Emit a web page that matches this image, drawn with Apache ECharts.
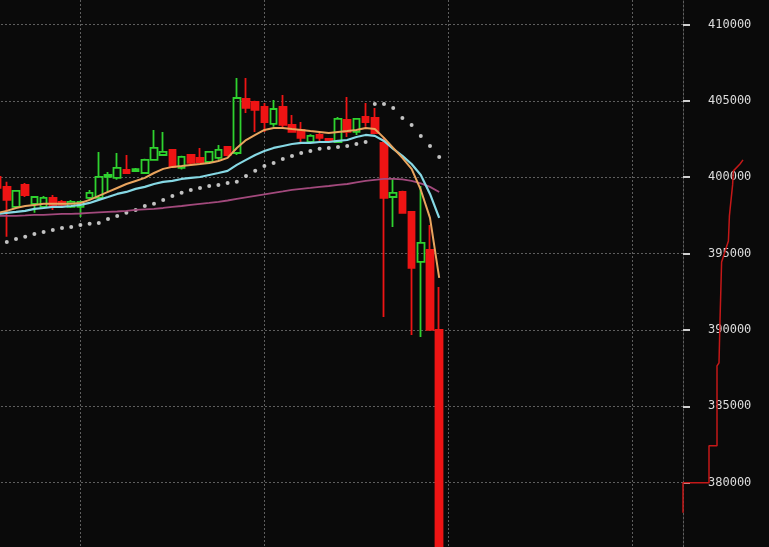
<!DOCTYPE html>
<html>
<head>
<meta charset="utf-8">
<script src="https://cdn.jsdelivr.net/npm/echarts@6/dist/echarts.min.js"></script>
<style>
  html, body { margin: 0; padding: 0; background: #0a0a0a; overflow: hidden; }
  /* the scale runs past the window: 415000 sits above it, 375000 below */
  #chart { position: absolute; left: -7px; top: -52px; width: 776px; height: 611px; }
</style>
</head>
<body>
<div id="chart"></div>
<script>
// 75 bar slots, only the first 49 carry candles
const categories = Array.from({length: 75}, (_, i) => 'K' + (i + 1));

// [open, close, low, high]
const candles = [
  [400010, 399290, 399160, 400140],
  [399360, 398510, 396090, 399690],
  [398050, 399100, 397980, 399160],
  [399490, 398830, 398700, 399620],
  [398250, 398700, 397660, 398770],
  [398050, 398640, 397980, 398770],
  [398640, 398050, 397850, 398830],
  [398380, 398180, 398050, 398510],
  [398050, 398380, 397980, 398510],
  [398050, 398380, 397390, 398450],
  [398640, 398970, 398510, 399160],
  [398640, 400010, 398510, 401650],
  [400010, 400140, 399030, 400340],
  [399950, 400600, 399820, 401580],
  [400470, 400270, 400200, 401450],
  [400400, 400530, 400350, 400600],
  [400270, 401130, 400200, 401200],
  [401130, 401910, 401130, 403090],
  [401450, 401650, 401450, 402960],
  [401780, 400670, 400600, 401800],
  [400600, 401320, 400500, 401400],
  [401450, 400930, 400850, 401500],
  [401260, 400990, 400930, 401910],
  [400990, 401650, 400990, 401700],
  [401260, 401780, 401130, 402110],
  [401980, 401450, 401350, 402000],
  [401580, 405180, 401450, 406490],
  [405120, 404530, 404200, 406490],
  [404920, 404400, 402960, 405000],
  [404590, 403610, 402960, 404860],
  [403480, 404460, 403290, 405050],
  [404590, 403420, 403220, 405380],
  [403420, 402960, 402900, 404070],
  [403090, 402570, 402300, 403610],
  [402300, 402700, 402200, 402800],
  [402760, 402570, 402300, 402890],
  [402500, 402370, 402300, 402560],
  [402300, 403810, 402240, 403940],
  [403740, 402960, 402630, 405250],
  [402960, 403810, 402760, 403870],
  [403940, 403610, 403290, 404860],
  [403870, 402890, 402850, 404530],
  [402240, 398640, 390850, 402570],
  [398700, 398970, 396740, 399950],
  [399030, 397660, 397600, 399100],
  [397720, 394060, 389670, 397720],
  [394450, 395690, 389540, 399420],
  [395230, 390000, 390000, 396870],
  [390000, 375500, 375400, 392810]
];

const maFast = [397660, 397790, 397980, 398110, 398180, 398250, 398250, 398250, 398250, 398310,
  398510, 398770, 399030, 399290, 399550, 399750, 399950, 400270, 400540, 400670,
  400730, 400800, 400860, 400930, 401060, 401260, 401910, 402430, 402760, 403090,
  403220, 403220, 403150, 403090, 403020, 402960, 402890, 402960, 403020, 403090,
  403220, 403150, 402570, 401910, 401260, 400540, 399160, 397330, 393400];

const maMid = [397590, 397660, 397720, 397790, 397920, 397980, 398050, 398050, 398110, 398180,
  398310, 398510, 398700, 398900, 399030, 399230, 399360, 399550, 399690, 399750,
  399880, 399950, 400010, 400140, 400270, 400410, 400800, 401130, 401450, 401710,
  401910, 402040, 402170, 402240, 402240, 402300, 402300, 402370, 402430, 402630,
  402760, 402700, 402370, 401850, 401390, 400860, 400140, 398900, 397330];

const maSlow = [397460, 397460, 397460, 397490, 397530, 397530, 397560, 397590, 397590, 397620,
  397660, 397690, 397720, 397750, 397790, 397850, 397890, 397920, 397980, 398050,
  398110, 398180, 398250, 398310, 398380, 398470, 398570, 398670, 398770, 398870,
  398970, 399060, 399160, 399230, 399290, 399360, 399420, 399490, 399550, 399650,
  399750, 399820, 399880, 399880, 399850, 399750, 399590, 399360, 399030];

const sar = [395630, 395760, 395950, 396090, 396280, 396410, 396540, 396670, 396740, 396870,
  396940, 397000, 397260, 397460, 397660, 397850, 398110, 398250, 398510, 398770,
  398970, 399160, 399290, 399420, 399490, 399620, 399690, 400080, 400410, 400730,
  400930, 401190, 401390, 401580, 401710, 401850, 401910, 401980, 402040, 402170,
  402300, 404790, 404790, 404530, 403870, 403420, 402700, 402040, 401320];

// cumulative depth next to the price scale
const depthVolume = [0, 0, 13, 13, 17, 17, 18, 18.5, 19, 19.3, 22.7, 23.2, 24.8, 25.2, 28.5, 30];
const depthPrice = [378020, 380000, 380000, 382410, 382410, 387640, 387840, 390590, 390590, 394450, 395820, 397460, 399490, 400410, 400860, 401130];

const gridLine = {color: '#5e5e5e', width: 1, type: [2, 2]};

let chart = echarts.init(document.getElementById('chart'));
let option = {
  backgroundColor: '#0a0a0a',
  animation: false,
  grid: [
    {left: 0, right: 86, top: 0, bottom: 0},
    {left: 690, right: 0, top: 0, bottom: 0}
  ],
  xAxis: [
    {
      type: 'category',
      data: categories,
      gridIndex: 0,
      axisLine: {show: false},
      axisTick: {show: false},
      axisLabel: {show: false},
      splitLine: {
        show: true,
        alignWithLabel: true,
        interval: (i) => i % 20 === 9,
        lineStyle: gridLine
      }
    },
    {
      type: 'value',
      gridIndex: 1,
      min: 0,
      max: 43,
      show: false
    }
  ],
  yAxis: [
    {
      type: 'value',
      gridIndex: 0,
      position: 'right',
      min: 375000,
      max: 415000,
      interval: 5000,
      axisLine: {show: true, lineStyle: gridLine},
      axisTick: {show: true, length: 7, lineStyle: {color: '#d0d0d0', width: 2}},
      axisLabel: {
        margin: 25,
        color: '#dcdcdc',
        fontFamily: 'DejaVu Sans Mono',
        fontSize: 12,
        formatter: (v) => String(v),
        showMinLabel: false,
        showMaxLabel: false
      },
      splitLine: {show: true, lineStyle: gridLine}
    },
    {
      type: 'value',
      gridIndex: 1,
      min: 375000,
      max: 415000,
      show: false
    }
  ],
  series: [
    {
      type: 'candlestick',
      data: candles,
      barWidth: 7,
      itemStyle: {
        color: 'transparent',
        color0: '#ee1414',
        borderColor: '#2fd22f',
        borderColor0: '#ee1414',
        borderWidth: 1.8
      }
    },
    {
      type: 'line',
      data: maSlow,
      showSymbol: false,
      lineStyle: {color: '#a2497c', width: 1.8}
    },
    {
      type: 'line',
      data: maMid,
      showSymbol: false,
      lineStyle: {color: '#86d8e4', width: 2.2}
    },
    {
      type: 'line',
      data: maFast,
      showSymbol: false,
      lineStyle: {color: '#e9a45e', width: 2}
    },
    {
      type: 'scatter',
      data: sar,
      symbolSize: 4,
      itemStyle: {color: '#f0f0f0'}
    },
    {
      type: 'line',
      xAxisIndex: 1,
      yAxisIndex: 1,
      data: depthVolume.map((v, i) => [v, depthPrice[i]]),
      showSymbol: false,
      z: 1,
      lineStyle: {color: '#c41818', width: 1.5}
    }
  ]
};
chart.setOption(option);
</script>
</body>
</html>
